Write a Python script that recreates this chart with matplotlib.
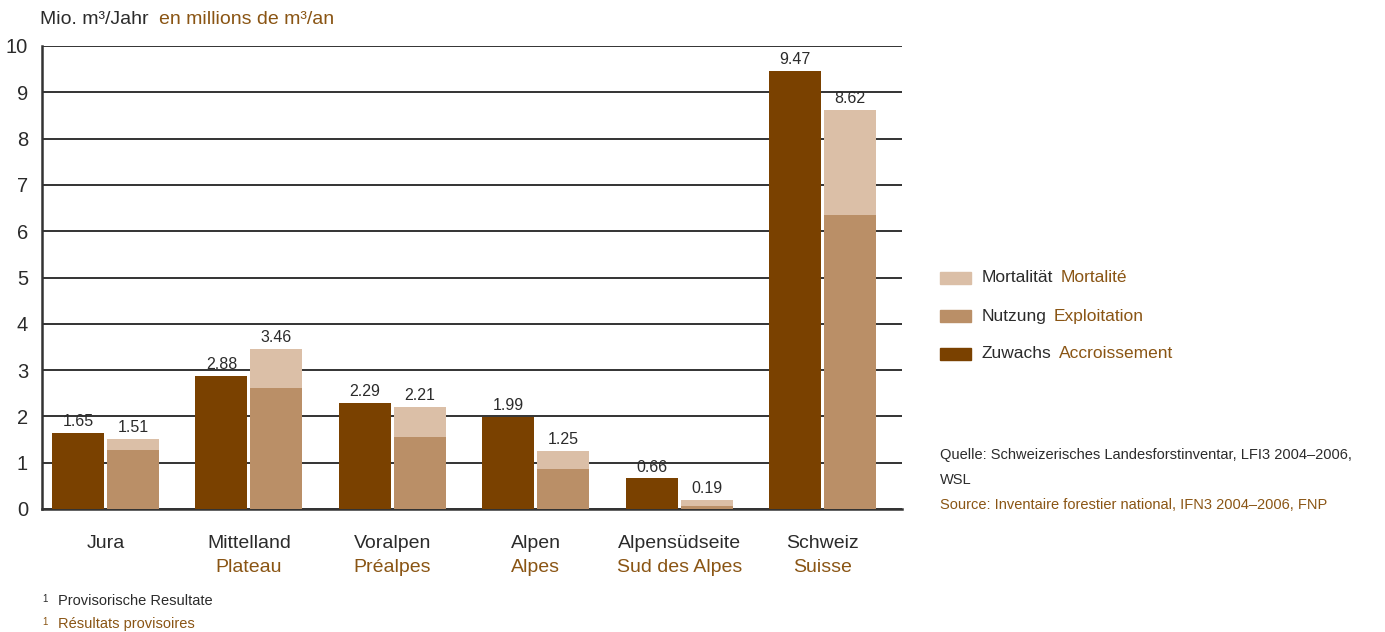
import numpy as np
import matplotlib
matplotlib.use("Agg")
import matplotlib.pyplot as plt
from matplotlib.transforms import blended_transform_factory
from matplotlib.patches import Rectangle

plt.rcParams['font.family'] = ['Liberation Sans', 'DejaVu Sans']

regions_de = ["Jura", "Mittelland", "Voralpen", "Alpen", "Alpensüdseite", "Schweiz"]
regions_fr = ["", "Plateau", "Préalpes", "Alpes", "Sud des Alpes", "Suisse"]
zuwachs = [1.65, 2.88, 2.29, 1.99, 0.66, 9.47]
total_abgang = [1.51, 3.46, 2.21, 1.25, 0.19, 8.62]
nutzung = [1.27, 2.62, 1.55, 0.86, 0.07, 6.36]
mortalitaet = [t - n for t, n in zip(total_abgang, nutzung)]

c_zuw = '#7a4100'
c_nutz = '#ba8f67'
c_mort = '#dbbfa7'
c_brown = '#8a5514'
c_dark = '#2b2b2b'

W, H = 1385, 632
fig = plt.figure(figsize=(W / 100, H / 100), dpi=100)
ax = fig.add_axes([42 / W, 1 - 509 / H, (902 - 42) / W, (509 - 46) / H])
renderer = fig.canvas.get_renderer()


def two_texts(xpx, ypx, de, fr, size, gap=8):
    # German text in dark, French text in brown right after it
    t = fig.text(xpx / W, 1 - ypx / H, de, fontsize=size, color=c_dark, va='center')
    bb = t.get_window_extent(renderer)
    fig.text((bb.x1 + gap) / W, 1 - ypx / H, fr, fontsize=size, color=c_brown, va='center')


x = np.arange(len(regions_de))
bw = 0.363
off = 0.192
ax.bar(x - off, zuwachs, bw, color=c_zuw, zorder=3)
ax.bar(x + off, nutzung, bw, color=c_nutz, zorder=3)
ax.bar(x + off, mortalitaet, bw, bottom=nutzung, color=c_mort, zorder=3)

for i in range(len(x)):
    ax.text(x[i] - off, zuwachs[i] + 0.08, f"{zuwachs[i]:.2f}", ha='center', va='bottom',
            fontsize=11.5, color=c_dark, zorder=4)
    ax.text(x[i] + off, total_abgang[i] + 0.08, f"{total_abgang[i]:.2f}", ha='center', va='bottom',
            fontsize=11.5, color=c_dark, zorder=4)

ax.set_xlim(-0.443, 5.554)
ax.set_ylim(0, 10)
ax.set_yticks(range(0, 11))
ax.yaxis.grid(True, color='#333333', linewidth=1.4, zorder=0)
ax.set_axisbelow(True)
for s in ['top', 'right']:
    ax.spines[s].set_visible(False)
for s in ['left', 'bottom']:
    ax.spines[s].set_linewidth(1.8)
    ax.spines[s].set_color('#333333')
ax.set_xticks([])
ax.tick_params(axis='y', length=0, labelsize=14.5, labelcolor=c_dark, pad=10)

# category labels
tr = blended_transform_factory(ax.transData, fig.transFigure)
for i in range(len(x)):
    ax.text(x[i], 1 - 543 / H, regions_de[i], transform=tr, ha='center', va='center',
            fontsize=14, color=c_dark)
    if regions_fr[i]:
        ax.text(x[i], 1 - 568 / H, regions_fr[i], transform=tr, ha='center', va='center',
                fontsize=14, color=c_brown)

# unit title
two_texts(40, 19, "Mio. m³/Jahr", "en millions de m³/an", 14, gap=10)

# legend
legend_items = [("Mortalität", "Mortalité", c_mort, 278),
                ("Nutzung", "Exploitation", c_nutz, 316),
                ("Zuwachs", "Accroissement", c_zuw, 354)]
for de, fr, col, yp in legend_items:
    fig.patches.append(Rectangle((940 / W, 1 - (yp + 6) / H), 31 / W, 12 / H,
                                 transform=fig.transFigure, color=col))
    two_texts(982, yp, de, fr, 12.5, gap=7)

# source
fig.text(940 / W, 1 - 455 / H, "Quelle: Schweizerisches Landesforstinventar, LFI3 2004–2006,",
         fontsize=10.5, color=c_dark, va='center')
fig.text(940 / W, 1 - 480 / H, "WSL", fontsize=10.5, color=c_dark, va='center')
fig.text(940 / W, 1 - 505 / H, "Source: Inventaire forestier national, IFN3 2004–2006, FNP",
         fontsize=10.5, color=c_brown, va='center')

# footnotes
fig.text(42 / W, 1 - 599 / H, "1", fontsize=7, color=c_dark, va='center')
fig.text(58 / W, 1 - 601 / H, "Provisorische Resultate", fontsize=10.5, color=c_dark, va='center')
fig.text(42 / W, 1 - 622 / H, "1", fontsize=7, color=c_brown, va='center')
fig.text(58 / W, 1 - 624 / H, "Résultats provisoires", fontsize=10.5, color=c_brown, va='center')

fig.savefig("out.png", dpi=100)
